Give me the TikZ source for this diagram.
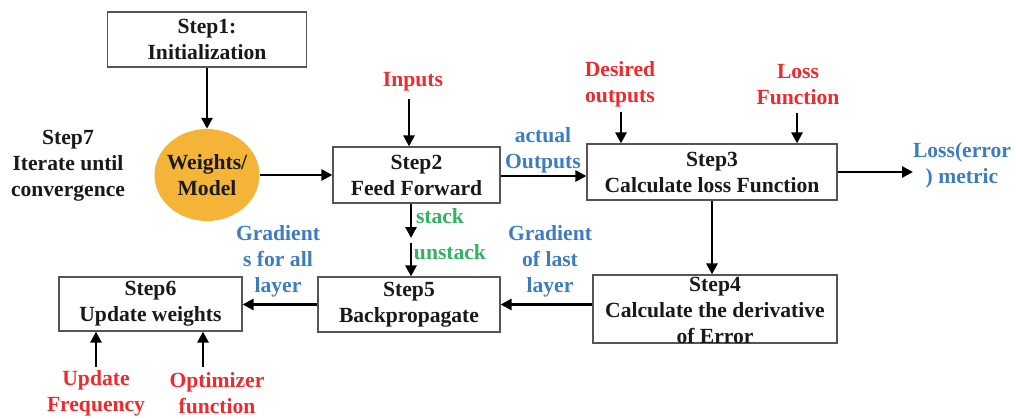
\documentclass[tikz,border=0pt]{standalone}
\usepackage{fontspec}
\setmainfont{Liberation Serif}
\usetikzlibrary{arrows.meta,shapes.geometric}
\definecolor{lblred}{HTML}{EE2A2E}
\definecolor{lblblue}{HTML}{3D7DBF}
\definecolor{lblgreen}{HTML}{34B262}
\definecolor{wmorange}{HTML}{F4B437}
\definecolor{boxline}{HTML}{555555}
\tikzset{
  stepbox/.style={draw=boxline, line width=1.2pt, fill=white, inner sep=0pt},
  txt/.style={font=\fontsize{21.6}{26}\selectfont\bfseries, align=center, inner sep=0pt, text=black!90},
  redtxt/.style={txt, text=lblred},
  bluetxt/.style={txt, text=lblblue},
  greentxt/.style={txt, text=lblgreen},
  arr/.style={line width=2.8pt, -{Triangle[length=11pt,width=11pt]}},
}
\begin{document}
\begin{tikzpicture}[x=1pt,y=-1pt]
\useasboundingbox (0,0) rectangle (1016,418);

% process boxes
\node[stepbox, minimum width=199pt, minimum height=55pt] (s1) at (207,39.5) {};
\node[txt] at (s1.center) {Step1:\\Initialization};

\node[ellipse, fill=wmorange, minimum width=105pt, minimum height=92pt, inner sep=0pt] (wm) at (207,175) {};
\node[txt] at (wm.center) {Weights/\\Model};

\node[stepbox, minimum width=167pt, minimum height=56pt] (s2) at (416.5,175) {};
\node[txt] at (s2.center) {Step2\\Feed Forward};

\node[stepbox, minimum width=250pt, minimum height=56pt] (s3) at (712,172) {};
\node[txt] at (s3.center) {Step3\\Calculate loss Function};

\node[stepbox, minimum width=244pt, minimum height=68pt] (s4) at (715,309) {};
\node[txt] at (715,310) {Step4\\Calculate the derivative\\of Error};

\node[stepbox, minimum width=182pt, minimum height=55pt] (s5) at (409,304.5) {};
\node[txt] at (s5.center) {Step5\\Backpropagate};

\node[stepbox, minimum width=183pt, minimum height=54pt] (s6) at (150.5,304) {};
\node[txt] at (s6.center) {Step6\\Update weights};

% labels
\node[txt] (s7) at (68,166) {Step7\\Iterate until\\convergence};
\node[redtxt] (inp) at (413,82) {Inputs};
\node[redtxt] (des) at (620,84) {Desired\\outputs};
\node[redtxt] (lf) at (798,85) {Loss\\Function};
\node[bluetxt] (act) at (543,150) {actual\\Outputs};
\node[bluetxt] (lm) at (962,165) {Loss(error\\) metric};
\node[bluetxt] (gl) at (550,261) {Gradient\\of last\\layer};
\node[bluetxt] (ga) at (278,261) {Gradient\\s for all\\layer};
\node[greentxt] (stk) at (440,216) {stack};
\node[greentxt] (ustk) at (450,252) {unstack};
\node[redtxt] (uf) at (96,393) {Update\\Frequency};
\node[redtxt] (opt) at (217,393) {Optimizer\\function};

% arrow end points
\coordinate (inA) at (409,99);
\coordinate (desA) at (621,112);
\coordinate (lfA) at (797,113);
\coordinate (lossOut) at (913,172);
\coordinate (midA) at (411,238);
\coordinate (midB) at (411,243);
\coordinate (ufA) at (96,367);
\coordinate (optA) at (203,367);

% connectors
\draw[arr] (s1.south) -- (wm.north);
\draw[arr] (wm.east) -- (wm.east -| s2.west);
\draw[arr] (inA) -- (inA |- s2.north);
\draw[arr] ([yshift=-1pt]s2.east) -- ([yshift=-1pt]s2.east -| s3.west);
\draw[arr] (desA) -- (desA |- s3.north);
\draw[arr] (lfA) -- (lfA |- s3.north);
\draw[arr] (s3.east) -- (lossOut);
\draw[arr] (s3.south) -- (s3.south |- s4.north);
\draw[arr] (s4.west |- s5.east) -- (s5.east);
\draw[arr] (midA |- s2.south) -- (midA);
\draw[arr] (midB) -- (midB |- s5.north);
\draw[arr] (s5.west) -- (s5.west -| s6.east);
\draw[arr] (ufA) -- (ufA |- s6.south);
\draw[arr] (optA) -- (optA |- s6.south);
\end{tikzpicture}
\end{document}
